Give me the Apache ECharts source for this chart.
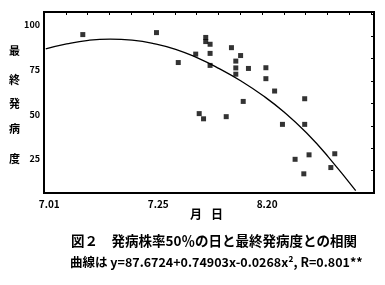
<!DOCTYPE html>
<html><head><meta charset="utf-8">
<script src="https://cdn.jsdelivr.net/npm/echarts@6/dist/echarts.min.js"></script>
<style>html,body{margin:0;padding:0;background:#fff}#c{width:385px;height:285px}</style>
</head><body><div id="c"></div>
<script>
// x = days after July 1 (7.01 = 0), y = final disease severity
const xDays = [7.7, 24.6, 29.6, 33.6, 35.9, 35.9, 36.9, 36.9, 36.9, 41.8, 43.9, 42.8, 42.8, 45.7, 42.8, 49.7, 49.7, 51.7, 44.5, 53.5, 58.6, 58.6, 59.6, 56.4, 58.4, 64.6, 65.5, 34.4, 35.4, 40.6];
const yDisease = [94.4, 95.5, 78.8, 83.5, 92.8, 90.5, 89.0, 83.9, 77.2, 87.1, 82.7, 79.6, 75.8, 75.5, 72.3, 75.9, 69.8, 62.9, 57.1, 44.3, 58.6, 44.3, 27.3, 24.8, 16.7, 20.2, 27.9, 50.3, 47.4, 48.6];
const curveX = [-0.8, 4, 9, 14, 19, 24, 29, 34, 39, 44, 49, 54, 59, 64, 70.3];
const curveY = [86.4, 89.2, 91.2, 91.9, 91.3, 89.4, 86.2, 81.4, 75.4, 68.5, 60.4, 50.9, 39.6, 26.2, 7.3];
const xTickValues = [0, 25, 50];
const xTickLabels = ['7.01', '7.25', '8.20'];
const yTickValues = [25, 50, 75, 100];
const yTitleChars = ['最', '終', '発', '病', '度'];
const xTitleChars = ['月', '日'];
const caption1 = '図２　発病株率50％の日と最終発病度との相関';
const caption2 = '曲線は y=87.6724+0.74903x-0.0268x², R=0.801**';

const FONT = '"Noto Sans CJK JP", "DejaVu Sans", sans-serif';
const chart = echarts.init(document.getElementById('c'));
const GRID = {left: 44, right: 11, top: 12, bottom: 92};
const yTitleY = [51, 80, 104, 129, 159];
const xTitleX = [196, 217];
const graphics = [];
yTitleChars.forEach((ch, i) => graphics.push({type: 'text', left: 9, top: yTitleY[i] - 6,
  style: {text: ch, font: 'bold 11px ' + FONT, fill: '#000'}}));
xTitleChars.forEach((ch, i) => graphics.push({type: 'text', left: xTitleX[i] - 6, top: 208,
  style: {text: ch, font: 'bold 12px ' + FONT, fill: '#000'}}));
graphics.push({type: 'text', left: 71, top: 234, style: {text: caption1, font: 'bold 13.5px ' + FONT, fill: '#000'}});
graphics.push({type: 'text', left: 70, top: 256, style: {text: caption2, font: 'bold 12.5px ' + FONT, fill: '#000'}});

function xLabel(v) {
  for (let i = 0; i < xTickValues.length; i++) {
    if (Math.abs(xTickValues[i] - v) < 0.01) return xTickLabels[i];
  }
  return '';
}
function mkLine() { return {show: true, onZero: false, lineStyle: {color: '#000000', width: 2, opacity: 1}}; }
chart.setOption({
  animation: false,
  grid: {left: GRID.left, right: GRID.right, top: GRID.top, bottom: GRID.bottom,
         show: true, borderColor: '#000000', borderWidth: 2, backgroundColor: 'rgba(0,0,0,0)'},
  xAxis: [
    {type: 'value', position: 'bottom', min: -1.2, max: 74.5,
      axisLine: mkLine(), splitLine: {show: false}, axisTick: {show: false},
      axisLabel: {show: true, customValues: xTickValues, margin: 6, color: '#000',
        fontFamily: FONT, fontWeight: 'bold', fontSize: 10, formatter: xLabel}},
    {type: 'value', position: 'top', min: 0, max: 75.7, interval: 5,
      axisLine: mkLine(), splitLine: {show: false},
      axisTick: {show: true, inside: true, length: 3, lineStyle: {color: '#000000', width: 1}},
      axisLabel: {show: false}}
  ],
  yAxis: [
    {type: 'value', position: 'left', min: 6, max: 107,
      axisLine: mkLine(), splitLine: {show: false}, axisTick: {show: false},
      axisLabel: {show: true, customValues: yTickValues, margin: 4, color: '#000',
        fontFamily: FONT, fontWeight: 'bold', fontSize: 9}},
    {type: 'value', position: 'right', min: 0, max: 101, interval: 12.5,
      axisLine: mkLine(), splitLine: {show: false},
      axisTick: {show: true, inside: true, length: 3, lineStyle: {color: '#000000', width: 1}},
      axisLabel: {show: false}}
  ],
  series: [
    {type: 'line', data: curveX.map((x, i) => [x, curveY[i]]), smooth: true, showSymbol: false,
     lineStyle: {color: '#000', width: 1.3}},
    {type: 'scatter', data: xDays.map((x, i) => [x, yDisease[i]]), symbol: 'rect', symbolSize: 5,
     itemStyle: {color: '#000'}}
  ],
  graphic: graphics
});
</script></body></html>
